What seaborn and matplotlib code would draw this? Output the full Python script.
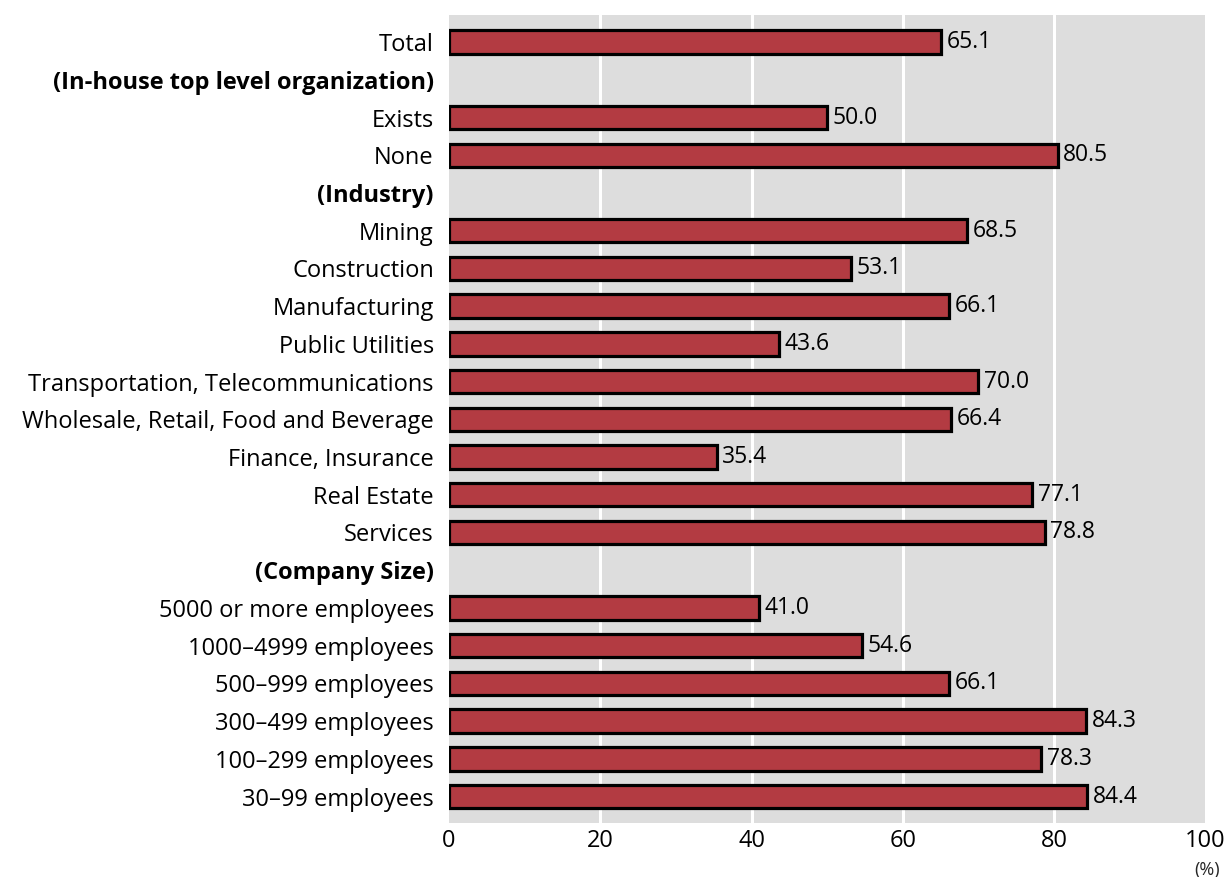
import matplotlib
matplotlib.use("Agg")
import matplotlib.pyplot as plt
import seaborn as sns
import pandas as pd
import numpy as np

labels = [
    "Total",
    "(In-house top level organization)",
    "Exists",
    "None",
    "(Industry)",
    "Mining",
    "Construction",
    "Manufacturing",
    "Public Utilities",
    "Transportation, Telecommunications",
    "Wholesale, Retail, Food and Beverage",
    "Finance, Insurance",
    "Real Estate",
    "Services",
    "(Company Size)",
    "5000 or more employees",
    "1000–4999 employees",
    "500–999 employees",
    "300–499 employees",
    "100–299 employees",
    "30–99 employees",
]
values = [65.1, None, 50.0, 80.5, None, 68.5, 53.1, 66.1, 43.6, 70.0, 66.4,
          35.4, 77.1, 78.8, None, 41.0, 54.6, 66.1, 84.3, 78.3, 84.4]
headers = ["(In-house top level organization)", "(Industry)", "(Company Size)"]
xticks = [0, 20, 40, 60, 80, 100]

sns.set_theme(style="white")
plt.rcParams['font.family'] = ['Open Sans', 'DejaVu Sans']

df = pd.DataFrame({"label": labels, "value": values})
df_plot = df.dropna()

fig = plt.figure(figsize=(12.31, 8.77), dpi=100)
ax = fig.add_axes([0.3648, 0.0616, 0.979 - 0.3648, 0.983 - 0.0616])
ax.set_facecolor("#dddddd")

sns.barplot(data=df_plot, x="value", y="label", order=labels, color="#b33b42",
            saturation=1, edgecolor="black", linewidth=2.3, width=0.62, ax=ax, zorder=3)

for c in ax.containers:
    ax.bar_label(c, fmt="%.1f", padding=4, fontsize=16.5, color="black")

ax.set_xlim(0, 100)
ax.set_ylim(20.7, -0.72)
ax.set_xticks(xticks)
ax.set_xticklabels([str(t) for t in xticks], fontsize=17, color="black")
for x in xticks[1:-1]:
    ax.axvline(x, color="white", lw=2.2, zorder=1)
ax.grid(False)
for s in ax.spines.values():
    s.set_visible(False)
ax.tick_params(axis="both", length=0)
ax.tick_params(axis="x", pad=4)
ax.tick_params(axis="y", pad=11)
ax.set_xlabel("")
ax.set_ylabel("")
for t in ax.get_yticklabels():
    t.set_fontsize(17)
    t.set_color("black")
    if t.get_text() in headers:
        t.set_fontweight("bold")
ax.text(1.003, -0.047, "(%)", transform=ax.transAxes, ha="center", va="top", fontsize=13)

fig.savefig("out.png", dpi=100)
